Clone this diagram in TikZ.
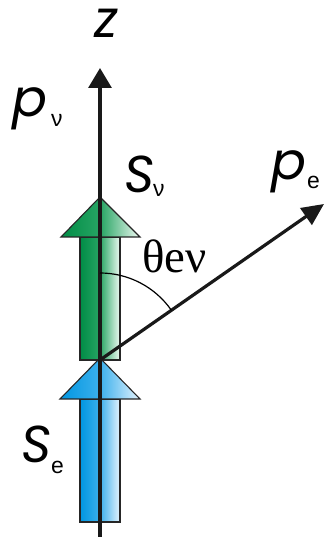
\documentclass[tikz,border=0pt]{standalone}
\usepackage{fontspec}
\usetikzlibrary{arrows.meta}
\newfontfamily\geo{Poppins Italic}
\newfontfamily\subf{Liberation Sans}
\newfontfamily\serf{Liberation Serif}
\definecolor{gdark}{RGB}{0,140,70}
\definecolor{gmid}{RGB}{40,165,100}
\definecolor{glight}{RGB}{238,249,242}
\definecolor{bdark}{RGB}{0,150,225}
\definecolor{bmid}{RGB}{60,176,236}
\definecolor{blight}{RGB}{228,243,253}
\tikzset{
  greenpart/.style={left color=gdark, right color=glight, middle color=gmid, draw=black!85, line width=1.1bp},
  bluepart/.style={left color=bdark, right color=blight, middle color=bmid, draw=black!85, line width=1.1bp},
  axisline/.style={line width=3.2bp, draw=black!90},
  biglabel/.style={font=\geo\fontsize{52}{52}\selectfont, inner sep=0pt, anchor=base west},
  sublabel/.style={font=\subf\fontsize{23}{23}\selectfont, inner sep=0pt, anchor=base west},
  anglabel/.style={font=\serf\fontsize{47}{47}\selectfont, inner sep=0pt, anchor=base west}
}
\begin{document}
\begin{tikzpicture}[x=1bp,y=1bp]
\useasboundingbox (0,0) rectangle (325,539);
% blue arrow
\path[bluepart] (80,17) rectangle (120,140);
\path[bluepart] (60,140) -- (100,181) -- (140,140) -- cycle;
% green arrow
\path[greenpart] (80,179) rectangle (120,302);
\path[greenpart] (61,302) -- (100,342) -- (140,302) -- cycle;
% coordinates
\coordinate (zb) at (100,2);
\coordinate (zt) at (100,471);
\coordinate (O) at (100,179);
\coordinate (pe) at (324,335);
% z axis
\draw[axisline, -{Triangle[length=20bp,width=23bp]}] (zb) -- (zt);
% p_e
\draw[axisline, -{Triangle[length=22bp,width=20bp]}] (O) -- (pe);
% angle arc
\draw[line width=1.2bp] ([shift={(90:87)}]O) arc[start angle=90, end angle=34.8, radius=87];
% labels
\node[biglabel] (z) at (94,501) {z};
\node[biglabel] (pnu) at (12,422) {p};
\node[sublabel] (pnus) at (51,412) {ν};
\node[biglabel] (Snu) at (124,346) {S};
\node[sublabel] (Snus) at (153,342) {ν};
\node[biglabel] (pel) at (271,359) {p};
\node[sublabel] (pes) at (307,350) {e};
\node[biglabel] (Se) at (21,76) {S};
\node[sublabel] (Ses) at (51,65) {e};
\node[anglabel] (th) at (142,266) {θeν};
\end{tikzpicture}
\end{document}
